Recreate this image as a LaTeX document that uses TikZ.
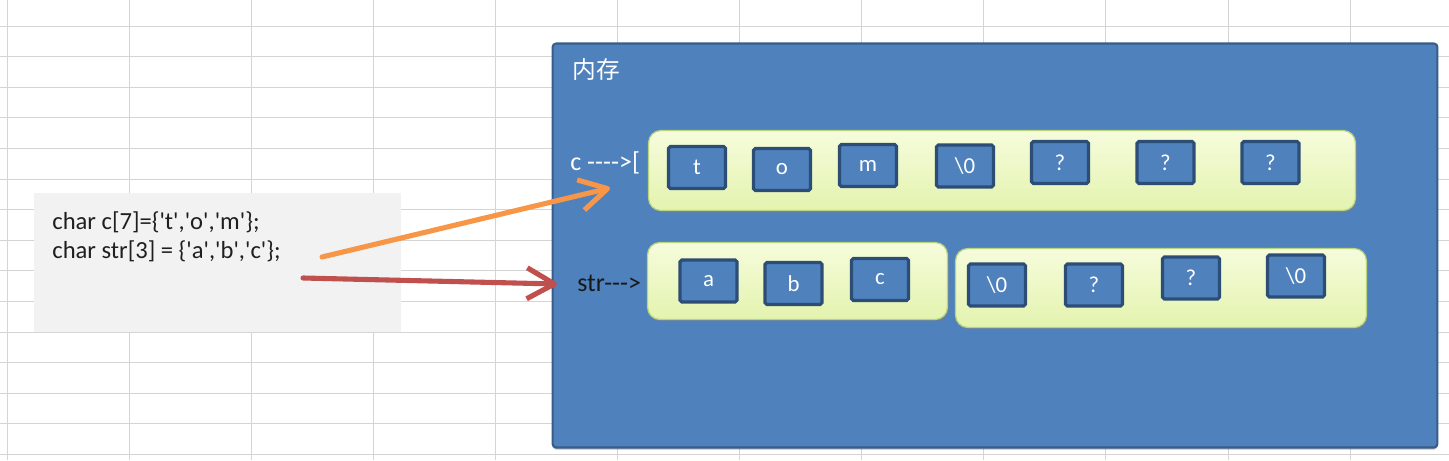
\documentclass[tikz,border=0pt]{standalone}
\usepackage{fontspec}
\setmainfont{Carlito}[Ligatures=TeXOff]
\newfontfamily\cjkfont{Noto Sans CJK SC}
\usetikzlibrary{arrows.meta,shadows}
\definecolor{memblue}{HTML}{4F81BD}
\definecolor{memedge}{HTML}{385D8A}
\definecolor{celledge}{HTML}{2C4D75}
\definecolor{rowtop}{HTML}{F6FCDC}
\definecolor{rowbot}{HTML}{E3F3AE}
\definecolor{rowedge}{HTML}{B9D47C}
\definecolor{ptrorange}{HTML}{F79646}
\definecolor{ptrred}{HTML}{C0504D}
\definecolor{codegray}{HTML}{F2F2F2}

\begin{document}
\begin{tikzpicture}[x=0.02cm, y=-0.02cm,
      gridline/.style={draw=black!17, line width=0.5pt},
      mem/.style={draw=memedge, fill=memblue, line width=1.2pt, rounded corners=2pt,
        minimum width=17.7cm, minimum height=8.08cm,
        drop shadow={shadow xshift=0pt, shadow yshift=-1.2pt, opacity=0.5}},
      row/.style={draw=rowedge, line width=0.7pt, rounded corners=7pt, top color=rowtop, bottom color=rowbot,
        drop shadow={shadow xshift=0.8pt, shadow yshift=-1.2pt, opacity=0.35}},
      cell/.style={draw=celledge, fill=memblue, line width=1.8pt, rounded corners=1pt,
        minimum width=1.14cm, minimum height=0.84cm, text=white, font=\fontsize{13}{15}\selectfont},
      lbl/.style={anchor=west, inner sep=0pt, font=\fontsize{14.8}{17}\selectfont},
      ptr/.style={line width=2.9pt, line cap=round, -{Straight Barb[length=0.55cm, width=0.62cm, line join=round]}}]
    \useasboundingbox (0,0) rectangle (1449,460);
    \fill[white] (0,0) rectangle (1449,460);
    \foreach \k in {0,...,11}
      \draw[gridline] ({7+122.1*\k},0) -- ({7+122.1*\k},460);
    \foreach \k in {0,...,14}
      \draw[gridline] (0,{26+30.6*\k}) -- (1449,{26+30.6*\k});

    \node[fill=codegray, minimum width=7.34cm, minimum height=2.78cm] (codebox) at (217.5,262.5) {};
    \node[anchor=north west, inner sep=0pt, align=left, text=black!88, font=\fontsize{14}{16.8}\selectfont]
      (decl) at (52,211) {char c[7]=\{'t','o','m'\};\\char str[3] = \{'a','b','c'\};};

    \node[mem] (memory) at (995,245.5) {};
    \node[lbl, text=white, font=\cjkfont\fontsize{13.5}{16}\selectfont] (memlbl) at (572,70) {内存};

    \node[row, minimum width=14.14cm, minimum height=1.6cm] (crow) at (1002,170.5) {};
    \node[row, minimum width=6.0cm, minimum height=1.54cm] (strrow) at (797.5,281) {};
    \node[row, minimum width=8.22cm, minimum height=1.58cm] (tailrow) at (1161,288) {};

    \node[lbl, text=white] (clbl) at (570,163) {c ---->[};
    \node[lbl, text=black!90] (strlbl) at (577,283) {str--->};

    \node[cell] (c0) at (697,167.5) {t};
    \node[cell] (c1) at (782,169.5) {o};
    \node[cell] (c2) at (868,165.5) {m};
    \node[cell] (c3) at (965,166) {\textbackslash 0};
    \node[cell] (c4) at (1060,162.5) {?};
    \node[cell] (c5) at (1165.5,162.5) {?};
    \node[cell] (c6) at (1270.5,162.5) {?};

    \node[cell] (s0) at (708.5,281) {a};
    \node[cell] (s1) at (793.5,283.5) {b};
    \node[cell] (s2) at (880,279.5) {c};
    \node[cell] (s3) at (997,285) {\textbackslash 0};
    \node[cell] (s4) at (1094,285) {?};
    \node[cell] (s5) at (1191,278) {?};
    \node[cell] (s6) at (1296,276) {\textbackslash 0};

    \coordinate (cfrom) at (322,257);
    \coordinate (cto) at (610,188);
    \coordinate (strfrom) at (303,278);
    \coordinate (strto) at (557,284);
    \draw[ptr, ptrorange] (cfrom) -- (cto);
    \draw[ptr, ptrred] (strfrom) -- (strto);
\end{tikzpicture}
\end{document}
